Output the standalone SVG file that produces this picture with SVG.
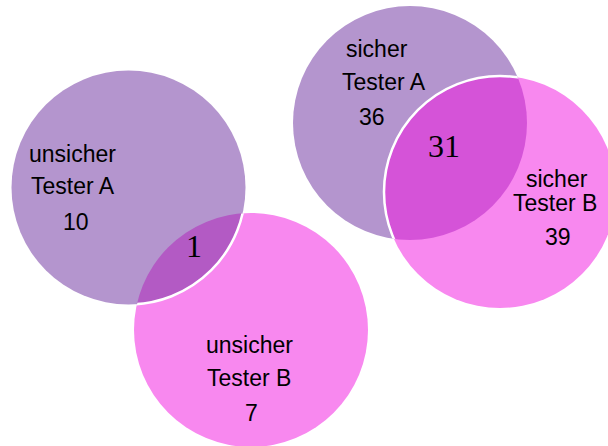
<svg xmlns="http://www.w3.org/2000/svg" width="608" height="446" viewBox="0 0 608 446">
<defs>
<clipPath id="clipLA"><circle cx="128.5" cy="187.5" r="117"/></clipPath>
<clipPath id="clipLB"><circle cx="251" cy="330" r="117"/></clipPath>
<clipPath id="clipRA"><circle cx="410" cy="123" r="117"/></clipPath>
<clipPath id="clipRB"><circle cx="500" cy="192" r="116"/></clipPath>
</defs>
<style>
.a{fill:#B495CE}
.b{fill:#F888EF}
.edge{fill:none;stroke:#FFFFFF;stroke-width:2.5}
.t{font-family:"Liberation Sans",Arial,sans-serif;font-size:23px;fill:#000}
.n{font-family:"Liberation Serif","Times New Roman",serif;font-size:32px;fill:#000}
</style>
<rect width="608" height="446" fill="#FFFFFF"/>
<g id="left-venn">
  <g id="unsicher-B">
    <circle class="b" cx="251" cy="330" r="117"/>
    <text class="t" x="206" y="353">unsicher</text>
    <text class="t" x="207" y="386">Tester B</text>
    <text class="t" x="245" y="421">7</text>
  </g>
  <g id="unsicher-A">
    <circle class="a" cx="128.5" cy="187.5" r="117"/>
    <text class="t" x="29" y="162">unsicher</text>
    <text class="t" x="31" y="194">Tester A</text>
    <text class="t" x="63" y="230">10</text>
  </g>
  <g id="unsicher-AB">
    <circle cx="251" cy="330" r="117" fill="#B35AC4" clip-path="url(#clipLA)"/>
    <circle class="edge" cx="128.5" cy="187.5" r="117" clip-path="url(#clipLB)"/>
    <text class="n" x="186" y="257">1</text>
  </g>
</g>
<g id="right-venn">
  <g id="sicher-A">
    <circle class="a" cx="410" cy="123" r="117"/>
    <text class="t" x="346" y="57">sicher</text>
    <text class="t" x="342" y="90">Tester A</text>
    <text class="t" x="359" y="125">36</text>
  </g>
  <g id="sicher-B">
    <circle class="b" cx="500" cy="192" r="116"/>
    <text class="t" x="526" y="187">sicher</text>
    <text class="t" x="513" y="211">Tester B</text>
    <text class="t" x="545" y="245">39</text>
  </g>
  <g id="sicher-AB">
    <circle cx="410" cy="123" r="117" fill="#D553D8" clip-path="url(#clipRB)"/>
    <circle class="edge" cx="500" cy="192" r="116" clip-path="url(#clipRA)"/>
    <text class="n" x="428" y="157">31</text>
  </g>
</g>
<g id="connectors"/>
</svg>
